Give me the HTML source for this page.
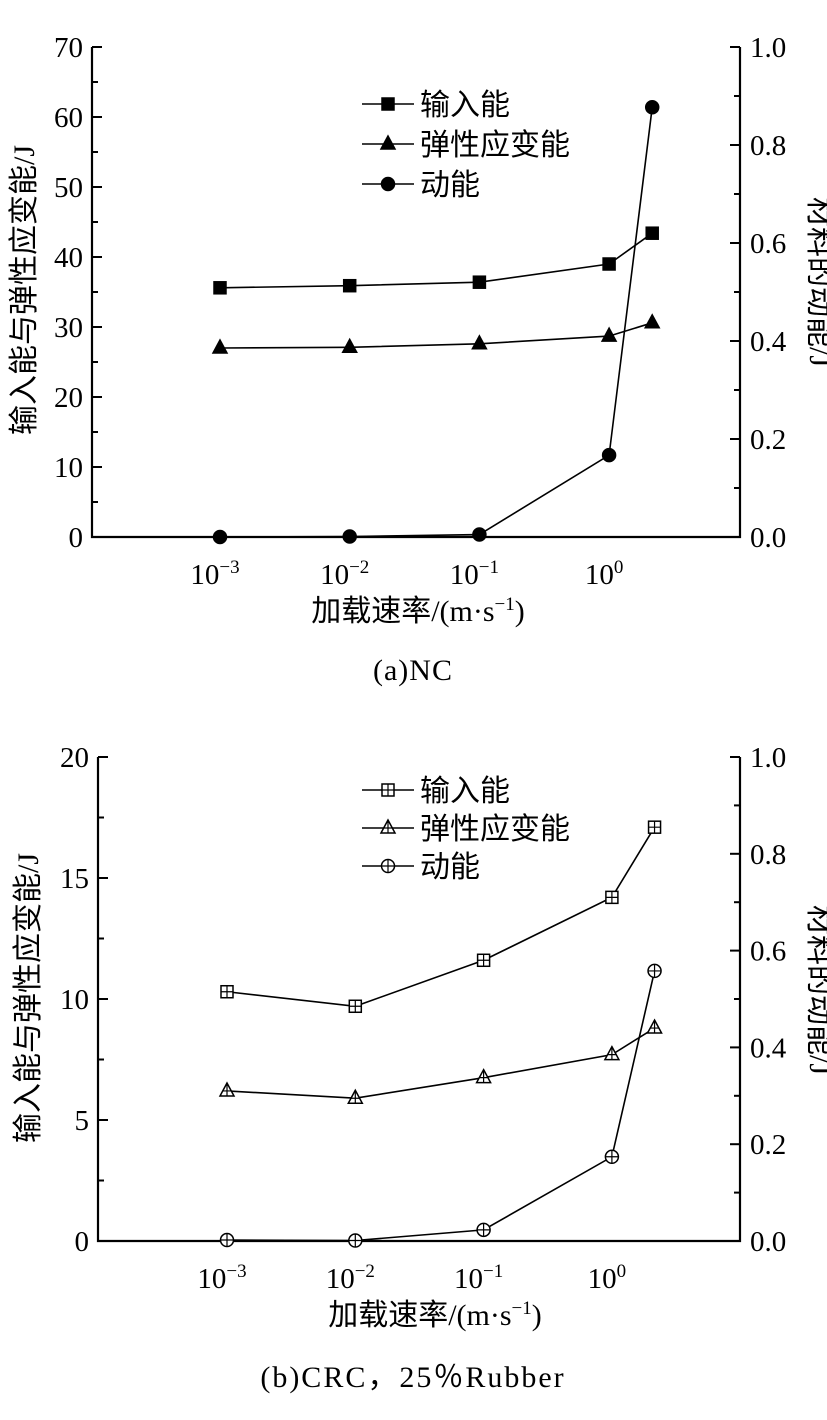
<!DOCTYPE html>
<html><head><meta charset="utf-8"><style>
html,body{margin:0;padding:0;background:#fff;}
svg text{fill:#000;}
.num{font-family:"Liberation Serif",serif;font-size:29px;}
.cjk{font-family:"Liberation Serif","Noto Sans CJK SC",sans-serif;font-size:30px;}
</style></head><body>
<svg id="chart" width="827" height="1415" xmlns="http://www.w3.org/2000/svg"></svg>
<script>
const xExp=[-3,-2,-1,0];
const rates=[0.001,0.01,0.1,1,2.15];
const aInput=[35.6,35.9,36.4,39.0,43.4];
const aElastic=[27.0,27.1,27.6,28.7,30.6];
const aKinetic=[0.0,0.001,0.005,0.167,0.877];
const bInput=[10.3,9.7,11.6,14.2,17.1];
const bElastic=[6.2,5.9,6.75,7.7,8.8];
const bKinetic=[0.002,0.001,0.023,0.174,0.558];
const aLeftTicks=[0,10,20,30,40,50,60,70];
const bLeftTicks=[0,5,10,15,20];
const rightTicks=[0,0.2,0.4,0.6,0.8,1.0];
const legendLabels=['输入能','弹性应变能','动能'];

const svg=document.getElementById('chart');
const NS='http://www.w3.org/2000/svg';
function el(tag,attrs,parent){const e=document.createElementNS(NS,tag);for(const k in attrs)e.setAttribute(k,attrs[k]);(parent||svg).appendChild(e);return e;}

function panel(cfg){
  const g=el('g',{});
  
  
  const L=cfg.left,R=740,T=cfg.top,B=cfg.bottom;
  const lx0=Math.log10(cfg.x0dec),decW=cfg.decW;
  const X=v=>cfg.x0+(Math.log10(v)-lx0)*decW;
  const YL=v=>B-(v/cfg.lmax)*(B-T);
  const YR=v=>B-v*(B-T);
  const ax=el('path',{d:`M${L},${T}V${B}H${R}V${T}`,fill:'none',stroke:'#000','stroke-width':2.2},g);
  
  const lt=cfg.lticks;const step=lt[1]-lt[0];
  for(let v=0;v<=cfg.lmax+1e-9;v+=step/2){
    const major=Math.abs(v/step-Math.round(v/step))<1e-6;
    el('line',{x1:L,x2:L+(major?10:6),y1:YL(v),y2:YL(v),stroke:'#000','stroke-width':2},g);
  }
  lt.forEach(v=>{const t=el('text',{x:L-9,y:YL(v)+10,'text-anchor':'end',class:'num'},g);t.textContent=v;
    });
  for(let i=0;i<=10;i++){const v=i/10;el('line',{x1:R,x2:R-(i%2?6:10),y1:YR(v),y2:YR(v),stroke:'#000','stroke-width':2},g);}
  rightTicks.forEach(v=>{const t=el('text',{x:R+10,y:YR(v)+10,class:'num'},g);t.textContent=v.toFixed(1);
    });
  xExp.forEach(e=>{const t=el('text',{x:X(Math.pow(10,e))-5,y:B+47,'text-anchor':'middle',class:'num'},g);
    t.textContent='10';const s=el('tspan',{dy:-11,'font-size':19},t);s.textContent=(e<0?'−':'')+Math.abs(e);
    });
  const xt=el('text',{x:(L+R)/2+cfg.xtShift,y:B+84,'text-anchor':'middle',class:'cjk'},g);
  xt.innerHTML='加载速率/(m·s<tspan dy="-11" font-size="19">−1</tspan><tspan dy="11">)</tspan>';
  
  const yl=el('text',{transform:`translate(${cfg.ylx},${cfg.ylc}) rotate(-90)`,'text-anchor':'middle',class:'cjk'},g);
  yl.textContent='输入能与弹性应变能/J';
  const yr=el('text',{transform:`translate(810,${cfg.yrc}) rotate(90)`,'text-anchor':'middle',class:'cjk','font-size':28},g);
  yr.textContent='材料的动能/J';
  const cap=el('text',{x:cfg.capX,y:cfg.capY,'text-anchor':'middle',class:'cjk','font-size':30,'letter-spacing':cfg.capLs},g);
  cap.textContent=cfg.caption;
  function marker(kind,x,y,gg){
    const open=cfg.open,fill=open?'#fff':'#000';
    if(kind==0){el('rect',{x:x-6,y:y-6,width:12,height:12,fill,stroke:'#000','stroke-width':1.5},gg);
      if(open){el('path',{d:`M${x-6},${y}H${x+6}M${x},${y-6}V${y+6}`,stroke:'#000','stroke-width':1.2},gg);}}
    else if(kind==1){el('path',{d:`M${x},${y-8}L${x+7},${y+5}L${x-7},${y+5}Z`,fill,stroke:'#000','stroke-width':1.5},gg);
      if(open)el('path',{d:`M${x},${y-8}V${y+5}M${x-4},${y}H${x+4}`,stroke:'#000','stroke-width':1.2},gg);}
    else {el('circle',{cx:x,cy:y,r:6.5,fill,stroke:'#000','stroke-width':1.5},gg);
      if(open)el('path',{d:`M${x-6.5},${y}H${x+6.5}M${x},${y-6.5}V${y+6.5}`,stroke:'#000','stroke-width':1.2},gg);}
  }
  const series=[[cfg.input,YL,'input-energy-series'],[cfg.elastic,YL,'elastic-energy-series'],[cfg.kinetic,YR,'kinetic-energy-series']];
  series.forEach((s,k)=>{
    const sg=el('g',{},g);
    el('polyline',{points:s[0].map((v,i)=>X(rates[i])+','+s[1](v)).join(' '),fill:'none',stroke:'#000','stroke-width':1.6},sg);
    s[0].forEach((v,i)=>marker(k,X(rates[i]),s[1](v),sg));
  });
  legendLabels.forEach((lab,k)=>{
    const lg=el('g',{},g);
    const y=cfg.legY+k*cfg.legDy;
    el('line',{x1:362,x2:414,y1:y,y2:y,stroke:'#000','stroke-width':1.6},lg);
    marker(k,388,y,lg);
    const t=el('text',{x:420,y:y+11,class:'cjk','font-size':31},lg);t.textContent=lab;
  });
}
panel({name:'panel-a-nc',left:92,top:47,bottom:537,lmax:70,lticks:aLeftTicks,x0:220,x0dec:0.001,decW:129.7,
  input:aInput,elastic:aElastic,kinetic:aKinetic,open:false,legY:104,legDy:40,ylx:34,ylc:290,yrc:282,xtShift:2,capX:413,capY:680,capLs:1,caption:'(a)NC'});
panel({name:'panel-b-crc',left:98,top:757,bottom:1241,lmax:20,lticks:bLeftTicks,x0:227,x0dec:0.001,decW:128.3,
  input:bInput,elastic:bElastic,kinetic:bKinetic,open:true,legY:790,legDy:38,ylx:38,ylc:998,yrc:990,xtShift:16,capX:413,capY:1387,capLs:2,caption:'(b)CRC，25％Rubber'});
</script>
</body></html>
